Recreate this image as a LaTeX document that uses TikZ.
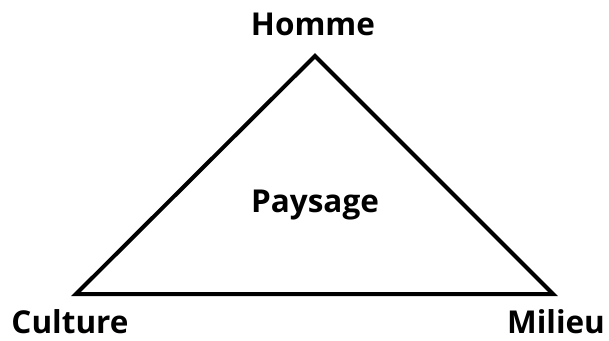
\documentclass[tikz,border=0pt]{standalone}
\usepackage{fontspec}
\setmainfont{Open Sans}
\begin{document}
\begin{tikzpicture}[x=1pt,y=-1pt,
  lbl/.style={font=\fontsize{31.5}{31.5}\selectfont\bfseries, inner sep=0pt, anchor=base, text depth=0pt}]
\useasboundingbox (0,0) rectangle (609,340);
\coordinate (H) at (315,56);
\coordinate (C) at (76,294);
\coordinate (M) at (553,294);
\draw[line width=4pt, line join=miter] (H) -- (M) -- (C) -- cycle;
\node[lbl] (homme) at (313,35) {Homme};
\node[lbl] (paysage) at (315,212) {Paysage};
\node[lbl] (culture) at (70,333) {Culture};
\node[lbl] (milieu) at (556,333) {Milieu};
\end{tikzpicture}
\end{document}
